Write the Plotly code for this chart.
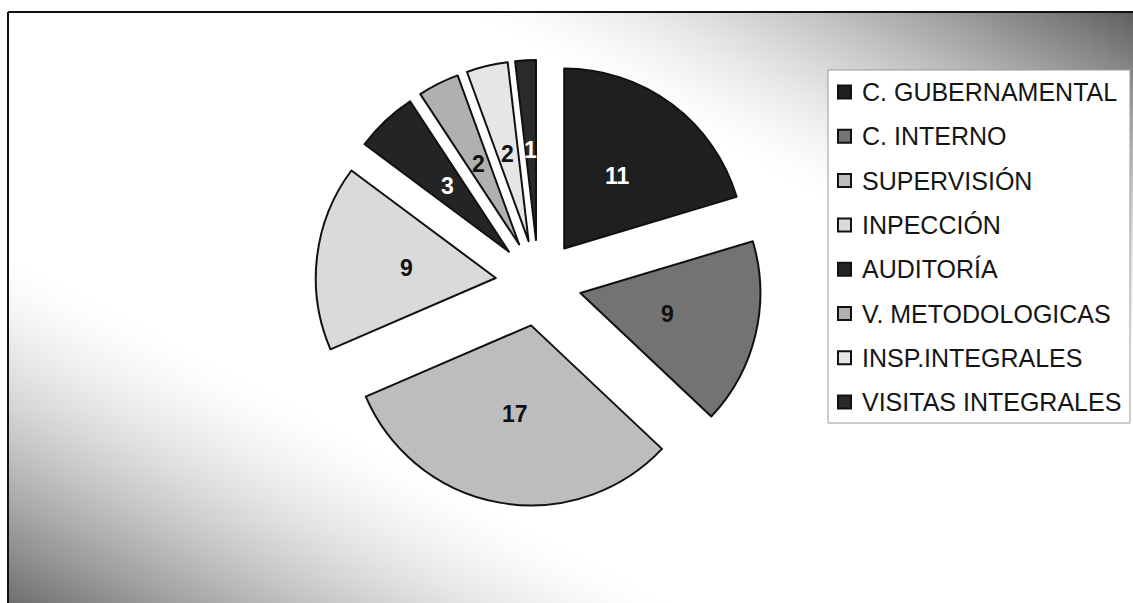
import numpy as np
import plotly.graph_objects as go

# ---------------- data ----------------
labels = ["C. GUBERNAMENTAL", "C. INTERNO", "SUPERVISIÓN", "INPECCIÓN",
          "AUDITORÍA", "V. METODOLOGICAS", "INSP.INTEGRALES", "VISITAS INTEGRALES"]
values = [11, 9, 17, 9, 3, 2, 2, 1]

# ---------------- style ----------------
colors = ["#1f1f1f", "#737373", "#bdbdbd", "#dadada",
          "#242424", "#b0b0b0", "#e6e6e6", "#2a2a2a"]
text_colors = ["#ffffff", "#111111", "#111111", "#111111",
               "#ffffff", "#111111", "#111111", "#ffffff"]

W, H = 1133, 603
CX, CY = 538.5, 283.0      # pie centre (px)
R = 180.0                  # pie radius (px)
PULL = 0.239
LABEL_FRAC = 0.5
FONT = "Liberation Sans, Arial, sans-serif"

box = R * (2 + 2 * PULL)
dom_y = [(H - CY - box / 2) / H, (H - CY + box / 2) / H]
dom_x = [(CX - box / 2 - 60) / W, (CX + box / 2 + 60) / W]

fig = go.Figure()

# background gradient (decoration)
FX0, FY0 = 8, 12
nx, ny = 240, 130
xs = np.linspace(0, 1, nx)
ys = np.linspace(0, 1, ny)
XX, YY = np.meshgrid(xs, ys)
U = XX - YY
t = np.clip((np.abs(U) - 0.4) / 0.6, 0, 1) ** 1.5
amp = np.where(U > 0, 160, 145)
Z = 255 - amp * t
fig.add_trace(go.Heatmap(z=Z, x=xs, y=ys, zmin=0, zmax=255, zsmooth="best",
                         colorscale=[[0, "rgb(0,0,0)"], [1, "rgb(255,255,255)"]],
                         showscale=False, hoverinfo="skip"))

fig.add_trace(go.Pie(
    labels=labels, values=values, sort=False, direction="clockwise", rotation=0,
    pull=[PULL] * len(values),
    marker=dict(colors=colors, line=dict(color="#111111", width=2)),
    textinfo="none", hoverinfo="label+value", showlegend=False,
    domain=dict(x=dom_x, y=dom_y),
))

annotations = []
# slice value labels, placed along each slice's mid angle
total = sum(values)
cum = 0
for v, tc in zip(values, text_colors):
    mid = np.deg2rad((cum + v / 2) / total * 360)
    cum += v
    d = R * (PULL + LABEL_FRAC)
    px = CX + d * np.sin(mid)
    py = CY - d * np.cos(mid)
    annotations.append(dict(x=px / W, y=1 - py / H, xref="paper", yref="paper",
                            text=f"<b>{v}</b>", showarrow=False,
                            xanchor="center", yanchor="middle",
                            font=dict(family=FONT, size=23, color=tc)))

shapes = [
    dict(type="line", xref="paper", yref="paper", x0=FX0 / W, x1=1, y0=1 - FY0 / H, y1=1 - FY0 / H,
         line=dict(color="#111111", width=2)),
    dict(type="line", xref="paper", yref="paper", x0=FX0 / W, x1=FX0 / W, y0=0, y1=1 - FY0 / H,
         line=dict(color="#111111", width=2)),
    dict(type="rect", xref="paper", yref="paper", x0=828 / W, x1=1130 / W,
         y0=1 - 423 / H, y1=1 - 70 / H, fillcolor="white",
         line=dict(color="#9a9a9a", width=1)),
]

# legend entries
LEG_Y0, LEG_STEP = 92, 44.3
for i, (lab, col) in enumerate(zip(labels, colors)):
    yc = LEG_Y0 + i * LEG_STEP
    shapes.append(dict(type="rect", xref="paper", yref="paper",
                       x0=838 / W, x1=851 / W, y0=1 - (yc + 6.5) / H, y1=1 - (yc - 6.5) / H,
                       fillcolor=col, line=dict(color="#111111", width=2)))
    annotations.append(dict(x=860 / W, y=1 - yc / H, xref="paper", yref="paper",
                            text=lab, showarrow=False, xanchor="left", yanchor="middle",
                            font=dict(family=FONT, size=25, color="#151515")))

fig.update_layout(
    width=W, height=H, margin=dict(l=0, r=0, t=0, b=0),
    paper_bgcolor="white", plot_bgcolor="rgba(0,0,0,0)",
    xaxis=dict(domain=[FX0 / W, 1], range=[0, 1], visible=False, fixedrange=True),
    yaxis=dict(domain=[0, 1 - FY0 / H], range=[1, 0], visible=False, fixedrange=True),
    shapes=shapes, annotations=annotations, showlegend=False,
)

fig.write_html("out.html", config={"displayModeBar": False},
               post_script="document.body.style.margin='0px';")
